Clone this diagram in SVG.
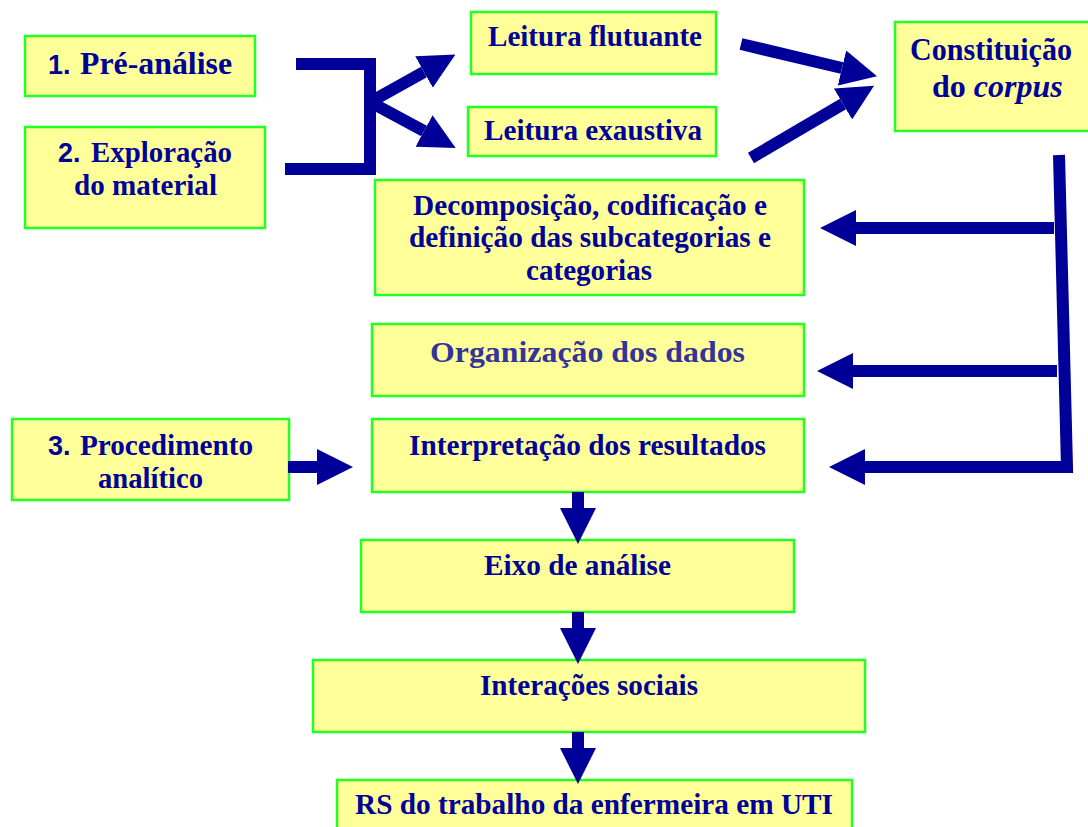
<svg xmlns="http://www.w3.org/2000/svg" width="1088" height="827" viewBox="0 0 1088 827">
<style>
.box{fill:#FFFF99;stroke:#22FF22;stroke-width:2.5}
.t{font-family:"Liberation Serif","Times New Roman",serif;font-weight:bold;font-size:30px;fill:#000099}
.n{font-family:"Liberation Sans",Arial,sans-serif;font-weight:bold;font-size:27px;fill:#000099}
.c{fill:none;stroke:#000099;stroke-width:12;stroke-linejoin:miter}
</style>
<defs>
<marker id="ah" viewBox="0 0 10 10" refX="0" refY="5" markerWidth="3" markerHeight="3" orient="auto" markerUnits="strokeWidth">
<path d="M0,0 L10,5 L0,10 z" fill="#000099"/>
</marker>
</defs>
<rect width="1088" height="827" fill="#FFFFFF"/>

<g id="pre-analise">
<rect class="box" x="25" y="36" width="230" height="60"/>
<text class="n" x="48" y="74">1.</text>
<text class="t" x="80" y="74" style="font-size:32px" textLength="152" lengthAdjust="spacingAndGlyphs">Pré-análise</text>
</g>
<g id="exploracao">
<rect class="box" x="25" y="127" width="240" height="101"/>
<text class="n" x="58" y="162">2.</text>
<text class="t" x="91" y="162" textLength="141" lengthAdjust="spacingAndGlyphs">Exploração</text>
<text class="t" x="74" y="195" textLength="143" lengthAdjust="spacingAndGlyphs">do material</text>
</g>
<g id="leitura-flutuante">
<rect class="box" x="471" y="12" width="245" height="62"/>
<text class="t" x="488" y="46" textLength="214" lengthAdjust="spacingAndGlyphs">Leitura flutuante</text>
</g>
<g id="leitura-exaustiva">
<rect class="box" x="468" y="107" width="248" height="49"/>
<text class="t" x="484" y="140" textLength="218" lengthAdjust="spacingAndGlyphs">Leitura exaustiva</text>
</g>
<g id="constituicao">
<rect class="box" x="895" y="22" width="200" height="109"/>
<text class="t" x="910" y="60" style="font-size:32px" textLength="162" lengthAdjust="spacingAndGlyphs">Constituição</text>
<text class="t" x="932" y="97" style="font-size:32px">do <tspan font-style="italic">corpus</tspan></text>
</g>
<g id="decomposicao">
<rect class="box" x="375" y="180" width="429" height="115"/>
<text class="t" x="413" y="215" textLength="354" lengthAdjust="spacingAndGlyphs">Decomposição, codificação e</text>
<text class="t" x="409" y="247" textLength="362" lengthAdjust="spacingAndGlyphs">definição das subcategorias e</text>
<text class="t" x="526" y="280" textLength="126" lengthAdjust="spacingAndGlyphs">categorias</text>
</g>
<g id="organizacao">
<rect class="box" x="372" y="324" width="432" height="72"/>
<text class="t" x="430" y="362" style="fill:#333399" textLength="315" lengthAdjust="spacingAndGlyphs">Organização dos dados</text>
</g>
<g id="procedimento">
<rect class="box" x="12" y="419" width="277" height="81"/>
<text class="n" x="48" y="455">3.</text>
<text class="t" x="80" y="455" textLength="173" lengthAdjust="spacingAndGlyphs">Procedimento</text>
<text class="t" x="98" y="488" textLength="105" lengthAdjust="spacingAndGlyphs">analítico</text>
</g>
<g id="interpretacao">
<rect class="box" x="372" y="419" width="432" height="73"/>
<text class="t" x="409" y="455" textLength="357" lengthAdjust="spacingAndGlyphs">Interpretação dos resultados</text>
</g>
<g id="eixo">
<rect class="box" x="361" y="540" width="433" height="72"/>
<text class="t" x="484" y="575" textLength="187" lengthAdjust="spacingAndGlyphs">Eixo de análise</text>
</g>
<g id="interacoes">
<rect class="box" x="313" y="660" width="552" height="72"/>
<text class="t" x="480" y="695" textLength="218" lengthAdjust="spacingAndGlyphs">Interações sociais</text>
</g>
<g id="rs">
<rect class="box" x="337" y="780" width="515" height="70"/>
<text class="t" x="355" y="814" textLength="478" lengthAdjust="spacingAndGlyphs">RS do trabalho da enfermeira em UTI</text>
</g>

<g id="connectors">
<path class="c" d="M296,64 L370,64 L370,169 L285,169"/>
<path class="c" d="M372,101 L424,72" marker-end="url(#ah)"/>
<path class="c" d="M372,103 L424,131" marker-end="url(#ah)"/>
<path class="c" d="M741,44 L842,68" marker-end="url(#ah)"/>
<path class="c" d="M751,158 L843,104" marker-end="url(#ah)"/>
<path class="c" d="M1059,155 L1067,467 L865,467" marker-end="url(#ah)"/>
<path class="c" d="M1054,228 L856,228" marker-end="url(#ah)"/>
<path class="c" d="M1057,371 L853,371" marker-end="url(#ah)"/>
<path class="c" d="M288,467 L317,467" marker-end="url(#ah)"/>
<path class="c" d="M578,492 L578,508" marker-end="url(#ah)"/>
<path class="c" d="M578,612 L578,628" marker-end="url(#ah)"/>
<path class="c" d="M578,732 L578,748" marker-end="url(#ah)"/>
</g>
</svg>
